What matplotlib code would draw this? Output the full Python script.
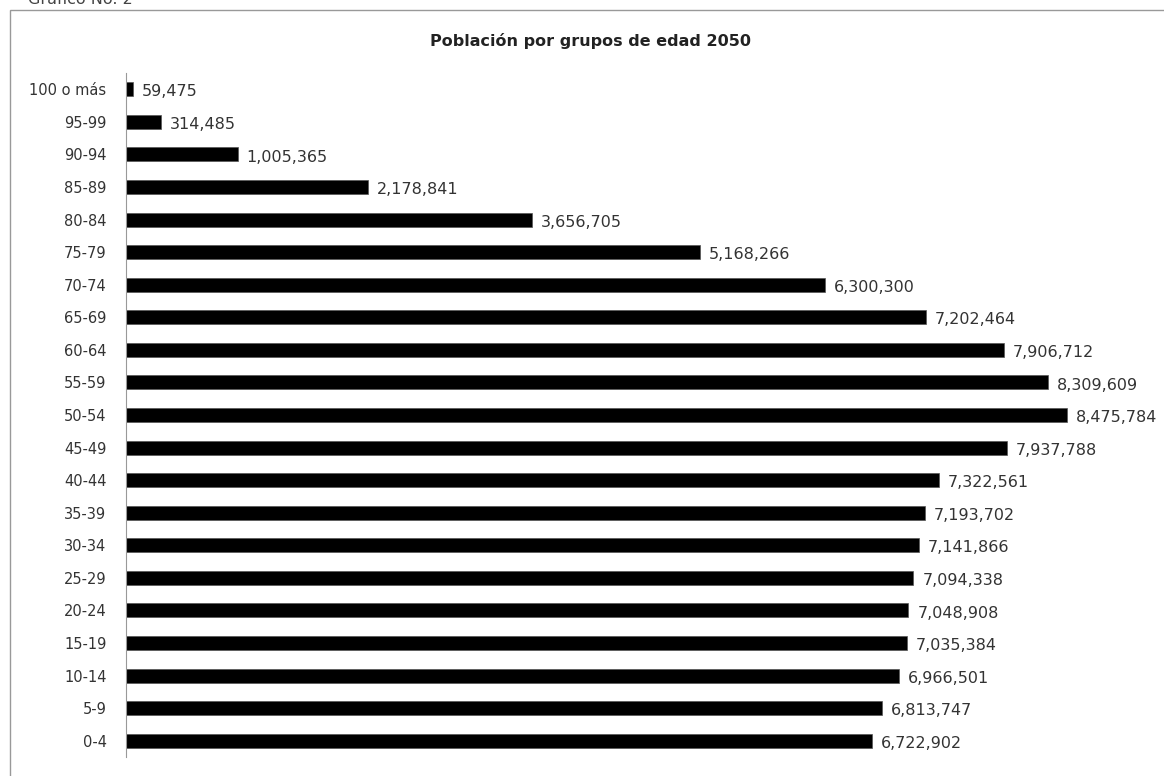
import matplotlib.pyplot as plt
from matplotlib.patches import Rectangle

grupos = ['0-4', '5-9', '10-14', '15-19', '20-24', '25-29', '30-34', '35-39',
          '40-44', '45-49', '50-54', '55-59', '60-64', '65-69', '70-74',
          '75-79', '80-84', '85-89', '90-94', '95-99', '100 o más']
poblacion = [6722902, 6813747, 6966501, 7035384, 7048908, 7094338, 7141866,
             7193702, 7322561, 7937788, 8475784, 8309609, 7906712, 7202464,
             6300300, 5168266, 3656705, 2178841, 1005365, 314485, 59475]

W, H = 1164, 776
fig = plt.figure(figsize=(W / 100, H / 100), dpi=100)
ax = fig.add_axes([126 / W, 1 - 757 / H, (1160 - 126) / W, (757 - 73) / H])

y = range(len(grupos))
ax.barh(y, poblacion, height=0.43, color='black', edgecolor='#555555', linewidth=0.5)
for yi, v in zip(y, poblacion):
    ax.text(v + 80000, yi - 0.08, '{:,}'.format(v), va='center', ha='left',
            fontsize=11.5, color='#333333')

ax.set_ylim(-0.5, len(grupos) - 0.5)
ax.set_xlim(0, 9.315e6)
ax.set_yticks(list(y))
ax.set_yticklabels(grupos, fontsize=10.5, color='#333333')
ax.tick_params(axis='y', length=0, pad=14)
ax.set_xticks([])
for s in ['top', 'right', 'bottom']:
    ax.spines[s].set_visible(False)
ax.spines['left'].set_color('#999999')

fig.text(590 / W, 1 - 41 / H, 'Población por grupos de edad 2050', ha='center',
         va='center', fontsize=11.5, fontweight='bold', color='#222222')
fig.text(28 / W, 1 - 0 / H, 'Gráfico No. 2', ha='left', va='center',
         fontsize=11.5, color='#444444')

# chart frame, runs past the right and bottom edge
fig.patches.append(Rectangle((10 / W, -0.1), 1.2, 1.1 - 10 / H,
                             transform=fig.transFigure, fill=False,
                             edgecolor='#999999', linewidth=1.0))

fig.savefig('out.png', dpi=100)
